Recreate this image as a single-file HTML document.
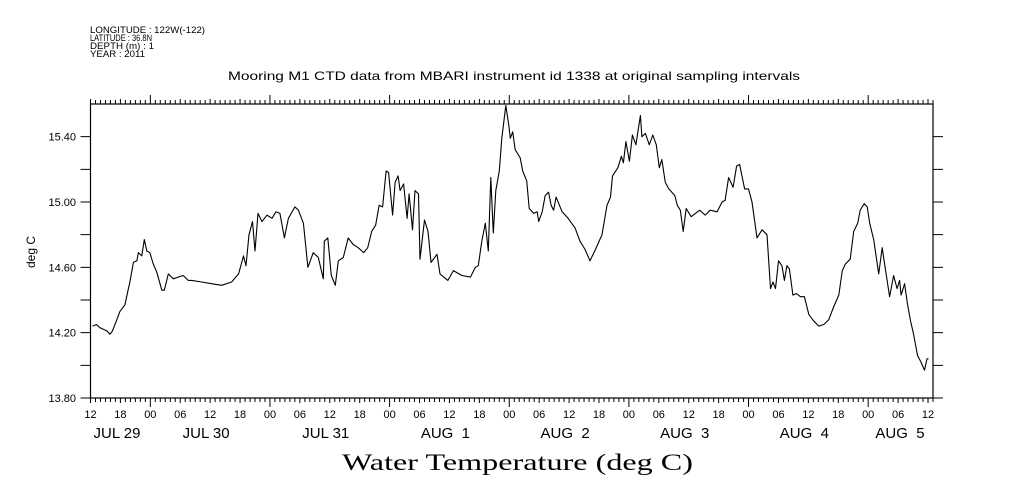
<!DOCTYPE html>
<html><head><meta charset="utf-8"><style>
html,body{margin:0;padding:0;background:#fff;width:1009px;height:504px;overflow:hidden}
svg{display:block}
text{fill:#000;white-space:pre}
</style></head><body>
<svg id="chart" width="1009" height="504" viewBox="0 0 1009 504" xmlns="http://www.w3.org/2000/svg">
<g font-family="Liberation Sans, sans-serif" font-size="9.5">
<text x="90" y="33" textLength="115" lengthAdjust="spacingAndGlyphs">LONGITUDE : 122W(-122)</text>
<text x="90" y="41" textLength="62" lengthAdjust="spacingAndGlyphs">LATITUDE : 36.8N</text>
<text x="90" y="49" textLength="64" lengthAdjust="spacingAndGlyphs">DEPTH (m) : 1</text>
<text x="90" y="57" textLength="55" lengthAdjust="spacingAndGlyphs">YEAR : 2011</text>
</g>
<text x="228" y="80" font-family="Liberation Sans, sans-serif" font-size="12" textLength="572" lengthAdjust="spacingAndGlyphs">Mooring M1 CTD data from MBARI instrument id 1338 at original sampling intervals</text>
<text transform="translate(35,252) rotate(-90)" text-anchor="middle" font-family="Liberation Sans, sans-serif" font-size="12">deg C</text>
<text x="342" y="470" font-family="Liberation Serif, serif" font-size="23" textLength="351" lengthAdjust="spacingAndGlyphs">Water Temperature (deg C)</text>
<g id="axes"></g>
<g id="series"></g>
</svg>
<script>
// hours since JUL 28 12:00 (2011)
const times = [0.4,1.2,1.9,3.3,3.9,4.4,5.3,5.9,6.9,7.6,7.9,8.6,9.3,9.6,10.3,10.8,11.3,11.9,12.6,13.3,14.3,14.8,15.6,16.6,17.6,18.6,19.6,20.3,22.3,24.3,26.3,28.3,29.7,30.7,31.2,31.8,32.5,33.0,33.6,34.4,35.4,36.4,37.2,38.0,38.9,39.7,41.0,41.7,42.7,43.6,44.7,45.7,46.7,46.9,47.6,48.3,49.1,49.7,50.7,51.7,52.7,53.7,54.8,55.6,56.4,57.2,57.9,58.6,59.3,59.8,60.6,61.1,61.7,62.1,62.8,63.5,63.9,64.6,65.1,65.8,66.1,67.0,67.7,68.3,69.5,70.1,71.7,72.8,74.5,76.2,77.2,77.8,78.5,79.2,79.8,80.3,80.8,81.3,82.0,82.5,83.3,83.9,84.2,84.7,85.2,86.2,86.7,87.5,88.0,88.9,89.6,89.9,90.6,91.2,91.9,92.4,92.9,93.4,94.6,95.8,97.2,98.2,99.2,100.2,101.3,102.6,103.6,104.3,104.7,105.8,106.5,106.9,107.4,108.1,108.7,109.4,110.3,110.6,111.3,112.1,112.8,113.5,114.1,114.6,115.3,116.0,117.2,117.7,118.3,118.9,119.5,120.5,122.2,123.3,124.3,125.7,126.7,127.3,128.0,128.9,129.6,130.2,131.2,132.0,132.7,133.7,134.7,135.7,136.4,136.9,137.4,138.0,138.7,139.2,139.7,140.2,140.9,141.6,142.4,143.2,144.1,145.1,146.1,147.1,148.1,149.1,150.1,150.8,151.4,152.4,153.1,153.9,154.4,155.2,155.8,156.3,157.1,158.1,158.8,159.4,160.3,161.1,161.8,162.3,162.6,163.3,163.9,164.5,165.1,165.9,166.6,167.3,167.8,168.1];
const temps = [14.24,14.25,14.23,14.21,14.19,14.21,14.28,14.33,14.37,14.47,14.51,14.63,14.64,14.69,14.67,14.77,14.70,14.69,14.62,14.57,14.46,14.46,14.56,14.53,14.54,14.55,14.52,14.52,14.51,14.50,14.49,14.51,14.56,14.67,14.61,14.80,14.88,14.70,14.93,14.88,14.92,14.90,14.94,14.93,14.78,14.90,14.97,14.95,14.87,14.60,14.69,14.66,14.53,14.76,14.78,14.55,14.49,14.64,14.66,14.78,14.74,14.72,14.69,14.72,14.82,14.86,14.98,14.97,15.19,15.18,14.92,15.12,15.16,15.07,15.11,14.90,15.05,14.83,15.07,15.05,14.65,14.89,14.82,14.63,14.68,14.56,14.52,14.58,14.55,14.54,14.60,14.61,14.76,14.87,14.70,15.15,14.81,15.07,15.19,15.39,15.59,15.47,15.39,15.43,15.32,15.27,15.19,15.13,14.96,14.93,14.94,14.88,14.94,15.04,15.06,14.98,14.95,15.03,14.94,14.90,14.84,14.76,14.71,14.64,14.71,14.80,14.98,15.03,15.16,15.21,15.28,15.24,15.37,15.25,15.41,15.35,15.53,15.40,15.42,15.35,15.41,15.35,15.21,15.26,15.12,15.08,15.04,14.98,14.95,14.82,14.96,14.91,14.95,14.92,14.95,14.94,15.00,15.01,15.15,15.09,15.22,15.23,15.08,15.08,15.00,14.78,14.83,14.80,14.47,14.51,14.47,14.64,14.61,14.52,14.61,14.59,14.43,14.44,14.42,14.42,14.31,14.27,14.24,14.25,14.28,14.36,14.43,14.58,14.62,14.65,14.82,14.87,14.95,14.99,14.97,14.87,14.77,14.56,14.72,14.60,14.42,14.55,14.47,14.52,14.43,14.50,14.37,14.27,14.19,14.06,14.02,13.97,14.04,14.04];
const yTickValues = [13.8,14.0,14.2,14.4,14.6,14.8,15.0,15.2,15.4];
const yTickLabels = ["13.80","","14.20","","14.60","","15.00","","15.40"];
const hourLabels = ["12","18","00","06","12","18","00","06","12","18","00","06","12","18","00","06","12","18","00","06","12","18","00","06","12","18","00","06","12"];
const dayLabels = ["JUL 29","JUL 30","JUL 31","AUG  1","AUG  2","AUG  3","AUG  4","AUG  5"];

const L=90.5, R=933, T=104, B=398, H0=0, H1=169, V0=13.8, V1=15.6;
const xs = h => L + (h-H0)/(H1-H0)*(R-L);
const ys = v => B - (v-V0)/(V1-V0)*(B-T);
const NS="http://www.w3.org/2000/svg";
const axes=document.getElementById('axes'), series=document.getElementById('series');
function mk(tag, attrs, parent){const e=document.createElementNS(NS,tag);for(const k in attrs)e.setAttribute(k,attrs[k]);parent.appendChild(e);return e;}

const frame=mk('rect',{x:L,y:T,width:R-L,height:B-T,fill:'none',stroke:'#000','stroke-width':1.2},axes);



let d='';
for(let h=0;h<=H1;h++){
  const x=xs(h), major=(h%6===0)&&((h+12)%24===0), six=h%6===0;
  const len = major?9:(six?5:4);
  d+=`M${x},${B}V${B+len}M${x},${T}V${T-len}`;
}
const xt=mk('path',{d:d,stroke:'#000','stroke-width':1,fill:'none'},axes);



d='';
yTickValues.forEach(v=>{const y=ys(v);d+=`M${L-10},${y}H${L}M${R},${y}H${R+10}`;});
const yt=mk('path',{d:d,stroke:'#000','stroke-width':1,fill:'none'},axes);



yTickLabels.forEach((s,i)=>{
  if(!s) return;
  const t=mk('text',{x:76,y:ys(yTickValues[i])+4,'text-anchor':'end','font-family':'Liberation Sans, sans-serif','font-size':11},axes);
  t.textContent=s;
  
  
});
hourLabels.forEach((s,i)=>{
  const t=mk('text',{x:xs(i*6),y:418,'text-anchor':'middle','font-family':'Liberation Sans, sans-serif','font-size':11},axes);
  t.textContent=s;
  
  
});
dayLabels.forEach((s,i)=>{
  let x=xs(i*24)-4;
  if(i===0) x=Math.max(x,117);
  if(i===dayLabels.length-1) x=Math.min(x,900);
  const t=mk('text',{x:x,y:438,'text-anchor':'middle','font-family':'Liberation Sans, sans-serif','font-size':15},axes);
  t.textContent=s;
  
  
});

const pts=times.map((h,i)=>`${xs(h).toFixed(1)},${ys(temps[i]).toFixed(1)}`).join(' ');
const line=mk('polyline',{points:pts,fill:'none',stroke:'#000','stroke-width':1.1,'stroke-linejoin':'round'},series);


</script>
</body></html>
